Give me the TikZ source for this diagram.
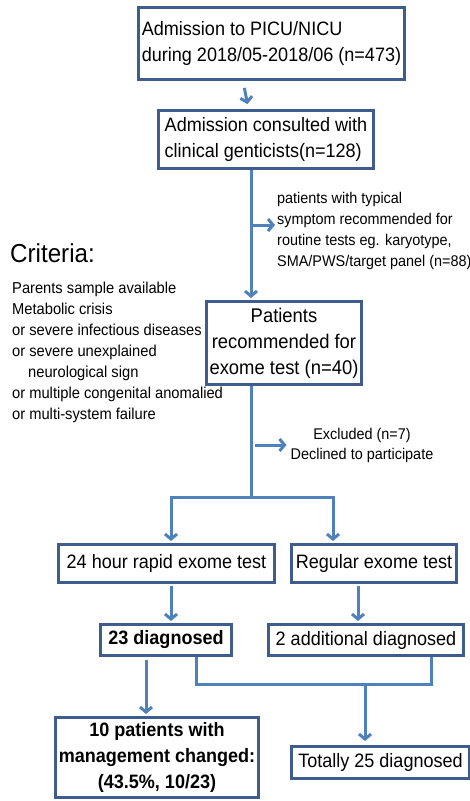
\documentclass[tikz,border=0pt]{standalone}
\usepackage{fontspec}
\setmainfont{Liberation Sans}[FakeStretch=0.93]
\usetikzlibrary{arrows.meta, positioning}
\definecolor{boxblue}{HTML}{3E5C8C}
\definecolor{lineblue}{HTML}{4F81BD}
\newcommand{\bigtxt}{\fontsize{19.4}{25.5}\selectfont}
\newcommand{\smalltxt}{\fontsize{15.5}{21}\selectfont}
\tikzstyle{block} = [rectangle, draw=boxblue, line width=3pt, fill=white,
inner sep=0pt, align=center, font=\bigtxt]
\tikzstyle{line} = [draw=lineblue, line width=3pt, -{Straight Barb[length=5pt, width=12pt]}, shorten >=2pt]
\tikzstyle{link} = [draw=lineblue, line width=3pt]
\tikzstyle{note} = [inner sep=0pt, align=left, font=\smalltxt]

\begin{document}
\begin{tikzpicture}[x=1pt, y=1pt]
    \useasboundingbox (0,0) rectangle (470,-801);
    \node [block, align=left, minimum width=266pt, minimum height=72pt] (adm) at (271.5,-43.5)
        {Admission to PICU/NICU\\during 2018/05-2018/06 (n=473)};
    \node [block, align=left, minimum width=215pt, minimum height=58pt, below of=adm, node distance=96pt, xshift=-5.5pt] (consult)
        {Admission consulted with\\clinical genticists(n=128)};
    \node [block, font=\fontsize{19.8}{26}\selectfont, minimum width=155pt, minimum height=83pt, below of=consult, node distance=203.5pt, xshift=18pt] (exome)
        {Patients\\recommended for\\exome test (n=40)};
    \node [block, minimum width=216pt, minimum height=38pt, below of=exome, node distance=220.5pt, xshift=-117.5pt] (rapid)
        {24 hour rapid exome test};
    \node [block, minimum width=165pt, minimum height=38pt, right of=rapid, node distance=207.5pt] (regular)
        {Regular exome test};
    \node [block, font=\bigtxt\bfseries, minimum width=131pt, minimum height=31pt, below of=rapid, node distance=76.5pt, xshift=-0.5pt] (diag23)
        {23 diagnosed};
    \node [block, minimum width=195pt, minimum height=31pt, below of=regular, node distance=76.5pt, xshift=-8pt] (add2)
        {2 additional diagnosed};
    \node [block, font=\fontsize{19.4}{26}\selectfont\bfseries, minimum width=203pt, minimum height=80pt, below of=diag23, node distance=117.5pt, xshift=-9pt] (mgmt)
        {10 patients with\\management changed:\\(43.5\%, 10/23)};
    \node [block, minimum width=178pt, minimum height=32pt, below of=add2, node distance=122.5pt, xshift=14.5pt] (total)
        {Totally 25 diagnosed};

    % side notes
    \node [note, anchor=west] (typical) at (277,-230.5)
        {patients with typical\\symptom recommended for\\routine tests eg. karyotype,\\SMA/PWS/target panel (n=88)};
    \node [note, align=center, font=\fontsize{15.5}{20}\selectfont] (excl) at (362,-445)
        {Excluded (n=7)\\Declined to participate};
    \node [inner sep=0pt, anchor=base west, font=\fontsize{26}{28}\selectfont] (crit) at (10,-262) {Criteria:};
    \node [note, anchor=north west, font=\fontsize{15.8}{21}\selectfont] (critlist) at (12,-281.5)
        {Parents sample available\\Metabolic crisis\\or severe infectious diseases\\or severe unexplained\\\hspace*{16pt}neurological sign\\or multiple congenital anomalied\\or multi-system failure};

    \coordinate (sp1) at (251,-225);
    \coordinate (sp2) at (251,-445);
    \coordinate (fork) at (251,-497);
    \coordinate (join) at (365,-684);

    \path [line, shorten <=7pt, shorten >=5pt] ([xshift=-28.5pt]adm.south) -- ([xshift=-23pt]adm.south |- consult.north);
    \path [line] ([xshift=-15pt]consult.south) -- ([xshift=-33pt]exome.north);
    \path [line, shorten <=1pt] (sp1) -- (sp1 -| typical.west);
    \path [link] ([xshift=-33pt]exome.south) -- (fork);
    \path [line, shorten <=4pt, shorten >=4pt] (sp2) -- (sp2 -| excl.west);
    \path [line] (fork) -| ([xshift=4.5pt]rapid.north);
    \path [line] (fork) -| ([xshift=-41pt]regular.north);
    \path [line, shorten <=2pt] ([xshift=4.5pt]rapid.south) -- ([xshift=5pt]diag23.north);
    \path [line, shorten <=2pt] ([xshift=-16pt]regular.south) -- ([xshift=-8pt]add2.north);
    \path [line, shorten <=3pt] ([xshift=-20pt]diag23.south) -- ([xshift=-11pt]mgmt.north);
    \path [link] ([xshift=30pt]diag23.south) |- (join) -| ([xshift=65pt]add2.south);
    \path [line, shorten >=4pt] (join) -- ([xshift=-15.5pt]total.north);
\end{tikzpicture}
\end{document}
